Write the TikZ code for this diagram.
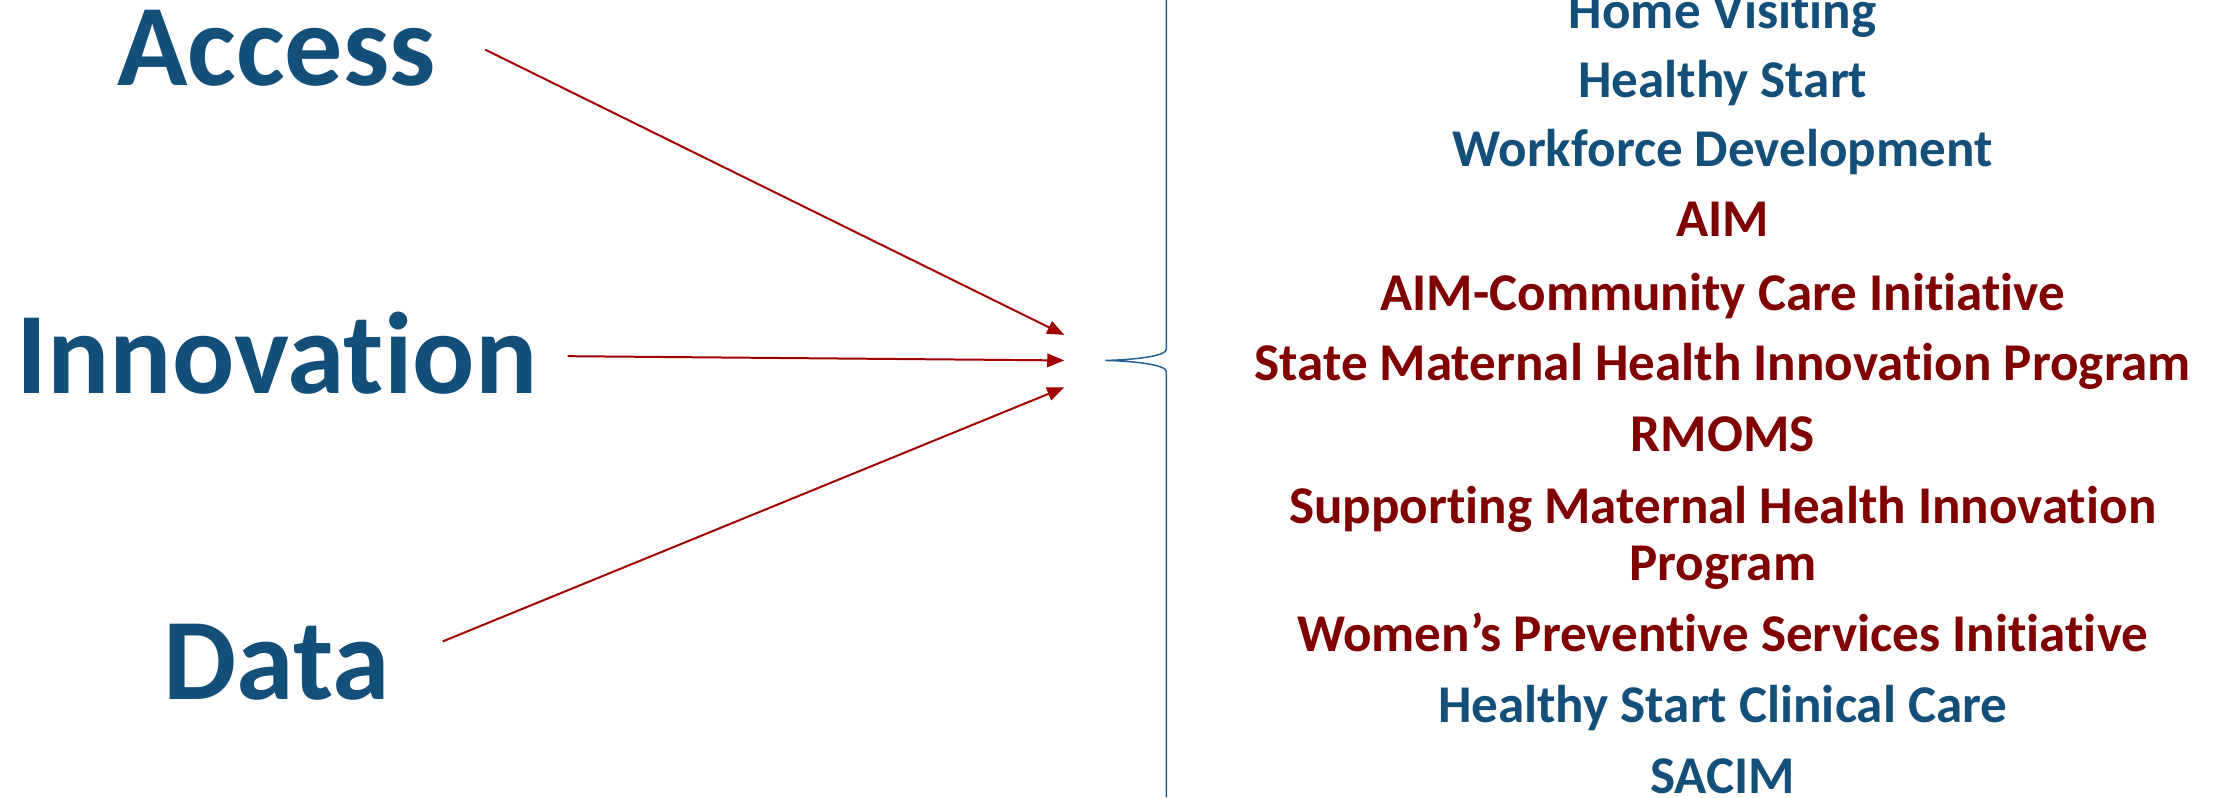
\documentclass[tikz,border=0pt]{standalone}
\usepackage{fontspec}
\setmainfont{Carlito}[Ligatures={NoCommon,NoRare}]
\usetikzlibrary{arrows.meta,positioning}
\definecolor{mchblue}{RGB}{20,79,122}
\definecolor{mchred}{RGB}{128,0,0}
\definecolor{feedred}{RGB}{160,0,0}
\definecolor{braceblue}{RGB}{37,94,150}

\begin{document}
\begin{tikzpicture}
  [x=0.02cm, y=-0.02cm,
  pillar/.style={text=mchblue, font=\fontsize{46.6}{50}\selectfont\bfseries, anchor=base, inner sep=0pt},
  prog/.style={font=\fontsize{21.3}{23}\selectfont\bfseries, anchor=base, inner sep=0pt},
 ]
  \tikzstyle{feed}=[draw=feedred, line width=0.8pt, -{Triangle[length=0.24cm,width=0.19cm]}]
  \tikzstyle{brace}=[draw=braceblue, line width=0.6pt]
  \useasboundingbox (0,0) rectangle (1568,562);
% the three pillars
\node[pillar] (access) at (195,60) {Access};
\node[pillar] (innovation) at (195,277) {Innovation};
\node[pillar] (data) at (195,493) {Data};
% where the arrows start and end
\coordinate (access-out) at (342,35);
\coordinate (innovation-out) at (400,251);
\coordinate (data-out) at (312,452);
\coordinate (access-in) at (750,236);
\coordinate (innovation-in) at (750,254);
\coordinate (data-in) at (750,273);
\draw[feed] (access-out) -- (access-in);
\draw[feed] (innovation-out) -- (innovation-in);
\draw[feed] (data-out) -- (data-in);
% brace
\coordinate (brace-tip) at (779,254);
\draw[brace] (822,0) -- (822,246)
  .. controls (822,251) and (800,253.5) .. (brace-tip)
  .. controls (800,254.5) and (822,257) .. (822,262) -- (822,562);
% programs
\foreach \i/\y/\c/\txt in {
  1/20/mchblue/Home Visiting,
  2/69/mchblue/Healthy Start,
  3/117/mchblue/Workforce Development,
  4/167/mchred/AIM,
  5/219/mchred/AIM-Community Care Initiative,
  6/268/mchred/State Maternal Health Innovation Program,
  7/318/mchred/RMOMS,
  8/369/mchred/Supporting Maternal Health Innovation,
  9/409/mchred/Program,
  10/459/mchred/Women’s Preventive Services Initiative,
  11/509/mchblue/Healthy Start Clinical Care,
  12/559/mchblue/SACIM}
  \node[prog, text=\c] (prog-\i) at (1214,\y) {\txt};
\end{tikzpicture}
\end{document}
